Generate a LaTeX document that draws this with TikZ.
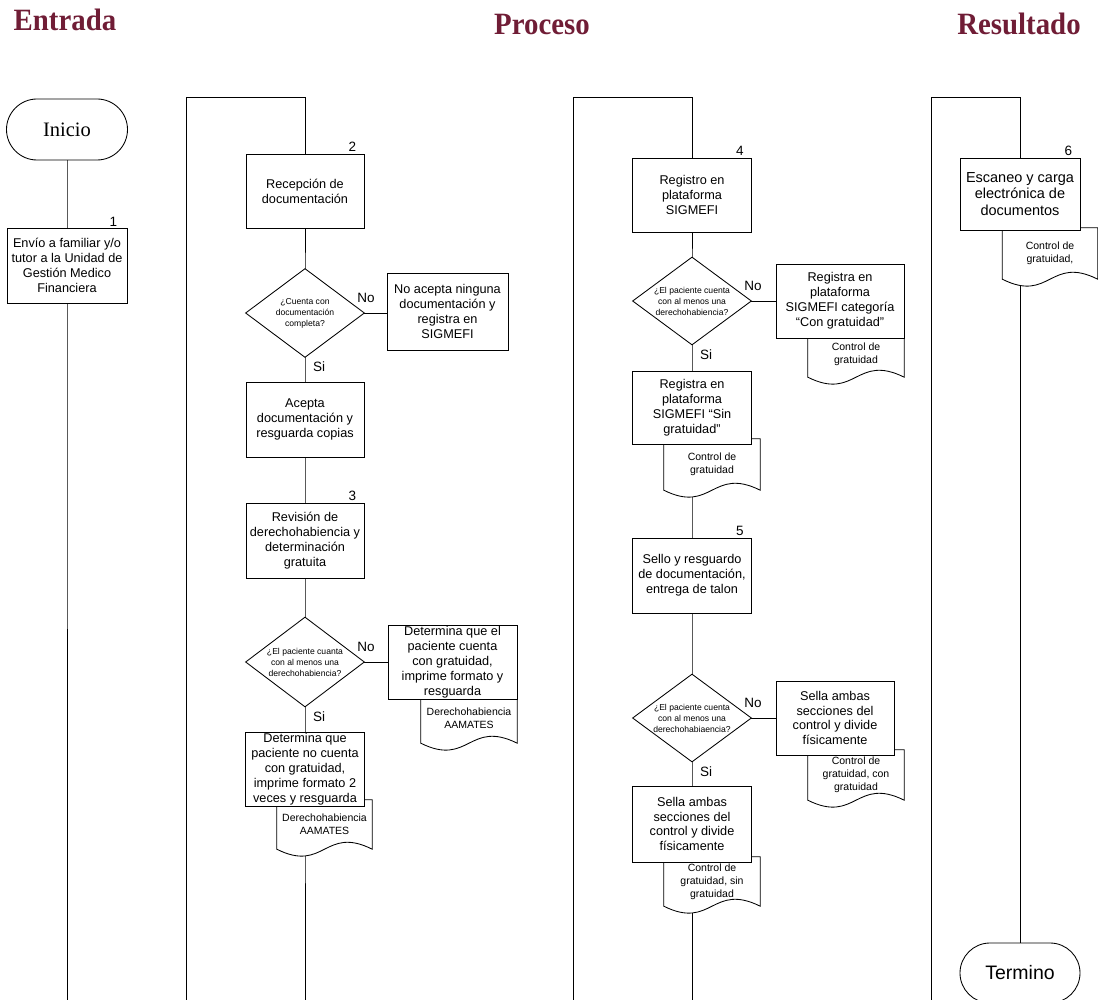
\documentclass[tikz,border=0pt]{standalone}
\usepackage{fontspec}
\setmainfont{Liberation Sans}
\newfontfamily\serifrm{Liberation Serif}
\usetikzlibrary{shapes.geometric,shapes.misc,calc}
\pgfdeclarelayer{bg}
\pgfdeclarelayer{docl}
\pgfsetlayers{bg,docl,main}
\definecolor{titlecol}{RGB}{112,29,54}
\newcommand\docout[1]{%
  \begin{pgfonlayer}{docl}
  \draw[conn, fill=white] (#1.north west) -- (#1.south west)
    .. controls ($(#1.south)+(0,24)$) and ($(#1.south)+(0,-24)$) .. (#1.south east)
    -- (#1.north east) -- cycle;
  \end{pgfonlayer}}
\begin{document}
\begin{tikzpicture}[x=1pt,y=-1pt,
  sz/.style 2 args={minimum width=#1pt, minimum height=#2pt},
  box/.style={rectangle, draw, fill=white, line width=0.85pt, align=center, inner sep=0pt,
    font=\fontsize{12.7}{14.9}\selectfont},
  dec/.style={diamond, draw, fill=white, line width=0.85pt, align=center, inner sep=0pt,
    aspect=1.33, font=\fontsize{8.6}{11}\selectfont},
  term/.style={rounded rectangle, draw, fill=white, line width=0.85pt, inner sep=0pt},
  docbox/.style={rectangle, align=center, inner sep=0pt, font=\fontsize{10.5}{13}\selectfont},
  lbl/.style={font=\fontsize{13.5}{15}\selectfont, inner sep=0pt},
  lane/.style={line width=0.95pt},
  conn/.style={line width=0.85pt},
  ttl/.style={font=\serifrm\bfseries\fontsize{31}{33}\selectfont, text=titlecol,
    anchor=base, inner sep=0pt, xscale=0.93, transform shape}]
\useasboundingbox (0,0) rectangle (1098,1000);

% titles
\node[ttl] (tEntrada) at (65,31) {Entrada};
\node[ttl] (tProceso) at (542,35) {Proceso};
\node[ttl] (tResultado) at (1019,35) {Resultado};

% lane coordinates and line ends
\coordinate (e1) at (67,1000);
\coordinate (l2b) at (186,1000);
\coordinate (l2t) at (186,97);
\coordinate (l2r) at (305,97);
\coordinate (e2) at (305,1000);
\coordinate (l3b) at (573,1000);
\coordinate (l3t) at (573,97);
\coordinate (l3r) at (692,97);
\coordinate (e3) at (692,1000);
\coordinate (l4b) at (931,1000);
\coordinate (l4t) at (931,97);
\coordinate (l4r) at (1020,97);

% documents (drawn before the boxes that overlap them)
\node[docbox, sz={96}{49}] (dc2) at (469,718.5) {Derechohabiencia\\AAMATES};
\docout{dc2}
\node[docbox, sz={95}{49}] (dc2b) at (324.5,824.5) {Derechohabiencia\\AAMATES};
\docout{dc2b}
\node[docbox, sz={96}{45}] (dc3) at (856,354.5) {Control de\\gratuidad};
\docout{dc3}
\node[docbox, sz={96}{51}] (dc3b) at (712,464.5) {Control de\\gratuidad};
\docout{dc3b}
\node[docbox, sz={96}{50}] (dc4) at (856,775) {Control de\\gratuidad, con\\gratuidad};
\docout{dc4}
\node[docbox, sz={96}{49}] (dc4b) at (712,881.5) {Control de\\gratuidad, sin\\gratuidad};
\docout{dc4b}
\node[docbox, sz={95}{51}] (dc6) at (1050,253.5) {Control de\\gratuidad,};
\docout{dc6}

% column 1
\node[term, sz={121}{61}, font=\serifrm\fontsize{20.5}{22}\selectfont] (ini) at (67,129.5) {Inicio};
\node[box, sz={120}{75}] (b1) at (67,265.5) {Envío a familiar y/o\\tutor a la Unidad de\\Gestión Medico\\Financiera};

% column 2
\node[box, sz={118}{74}] (b2) at (305,191) {Recepción de\\documentación};
\node[dec, sz={119}{89}] (d1) at (305,313) {¿Cuenta con\\documentación\\completa?};
\node[box, sz={121}{77}] (n1) at (447.5,311.5) {No acepta ninguna\\documentación y\\registra en\\SIGMEFI};
\node[box, sz={118}{75}] (a1) at (305,419.5) {Acepta\\documentación y\\resguarda copias};
\node[box, sz={118}{75}] (b3) at (305,540.5) {Revisión de\\derechohabiencia y\\determinación\\gratuita};
\node[dec, sz={119}{90}] (d2) at (305,662) {¿El paciente cuanta\\con al menos una\\derechohabiencia?};
\node[box, sz={129}{74}] (n2) at (452.5,662) {Determina que el\\paciente cuenta\\con gratuidad,\\imprime formato y\\resguarda};
\node[box, sz={119}{74}] (y2) at (305,769) {Determina que\\paciente no cuenta\\con gratuidad,\\imprime formato 2\\veces y resguarda};

% column 3
\node[box, sz={119}{74}] (b4) at (692,195) {Registro en\\plataforma\\SIGMEFI};
\node[dec, sz={119}{88}] (d3) at (692,301) {¿El paciente cuenta\\con al menos una\\derechohabiencia?};
\node[box, sz={128}{74}] (n3) at (840,301) {Registra en\\plataforma\\SIGMEFI categoría\\“Con gratuidad”};
\node[box, sz={119}{73}] (y3) at (692,407.5) {Registra en\\plataforma\\SIGMEFI “Sin\\gratuidad”};
\node[box, sz={119}{75}] (b5) at (692,575.5) {Sello y resguardo\\de documentación,\\entrega de talon};
\node[dec, sz={119}{88}] (d4) at (692,718) {¿El paciente cuenta\\con al menos una\\derechohabiaencia?};
\node[box, sz={118}{74}] (n4) at (835,718) {Sella ambas\\secciones del\\control y divide\\físicamente};
\node[box, sz={119}{76}] (y4) at (692,824) {Sella ambas\\secciones del\\control y divide\\físicamente};

% column 4
\node[box, sz={120}{72}, font=\fontsize{14.5}{16.3}\selectfont] (b6) at (1020,194) {Escaneo y carga\\electrónica de\\documentos};
\node[term, sz={120}{60}, font=\fontsize{19.5}{21}\selectfont] (term) at (1020,973) {Termino};

% step numbers
\node[lbl] (n1lbl) at ([xshift=-14pt,yshift=6pt]b1.north east) {1};
\node[lbl] (n2lbl) at ([xshift=-12pt,yshift=6.5pt]b2.north east) {2};
\node[lbl] (n3lbl) at ([xshift=-12pt,yshift=6.5pt]b3.north east) {3};
\node[lbl] (n4lbl) at ([xshift=-12pt,yshift=6.5pt]b4.north east) {4};
\node[lbl] (n5lbl) at ([xshift=-12pt,yshift=6.5pt]b5.north east) {5};
\node[lbl] (n6lbl) at ([xshift=-12pt,yshift=6.5pt]b6.north east) {6};

% decision labels
\foreach \d in {d1,d2,d3,d4}{
  \node[lbl] (\d no) at ([xshift=1pt,yshift=15pt]\d.east) {No};
  \node[lbl] (\d si) at ([xshift=14pt,yshift=-9pt]\d.south) {Si};
}

% connectors
\begin{pgfonlayer}{bg}
\draw[conn] (ini.center) -- (b1.center) -- (e1);
\draw[lane] (l2b) -- (l2t) -- (l2r) -- (b2.center);
\draw[conn] (b2.center) -- (d1.center) -- (a1.center) -- (b3.center) -- (d2.center) -- (y2.center) -- (e2);
\draw[conn] (d1.center) -- (d1.center -| n1.center);
\draw[conn] (d2.center) -- (d2.center -| n2.center);
\draw[lane] (l3b) -- (l3t) -- (l3r) -- (b4.center);
\draw[conn] (b4.center) -- (d3.center) -- (y3.center) -- (b5.center) -- (d4.center) -- (y4.center) -- (e3);
\draw[conn] (d3.center) -- (d3.center -| n3.center);
\draw[conn] (d4.center) -- (d4.center -| n4.center);
\draw[lane] (l4b) -- (l4t) -- (l4r) -- (b6.center);
\draw[conn] (b6.center) -- (term.center);
\end{pgfonlayer}
\end{tikzpicture}
\end{document}
